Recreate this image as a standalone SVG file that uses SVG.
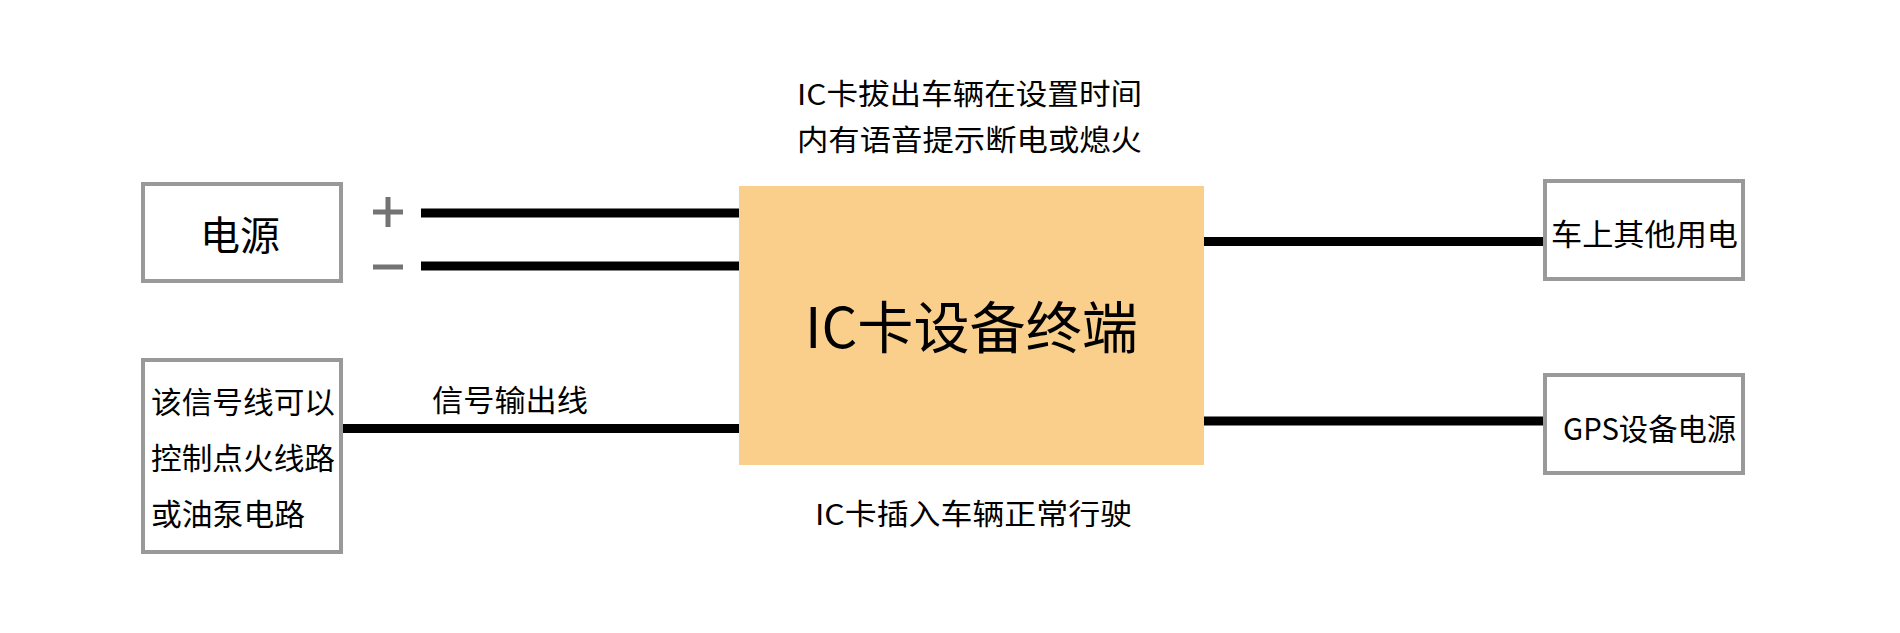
<svg xmlns="http://www.w3.org/2000/svg" width="1900" height="633" viewBox="0 0 1900 633">
<style>
.box{fill:#ffffff;stroke:#999999;stroke-width:4}
.t{font-family:"Noto Sans CJK SC","Noto Sans",sans-serif;fill:#000000}
.wire{stroke:#000000;stroke-width:9;fill:none}
.sign{fill:#737373}
</style>
<rect width="1900" height="633" fill="#ffffff"/>
<g id="connectors">
<line class="wire" x1="421" y1="213" x2="740" y2="213"/>
<line class="wire" x1="421" y1="266" x2="740" y2="266"/>
<line class="wire" x1="342" y1="428.5" x2="740" y2="428.5"/>
<line class="wire" x1="1203" y1="241.5" x2="1545" y2="241.5"/>
<line class="wire" x1="1203" y1="421" x2="1545" y2="421"/>
</g>
<g id="plus-minus">
<rect class="sign" x="373" y="209.5" width="30" height="5"/>
<rect class="sign" x="385.5" y="197" width="5" height="30"/>
<rect class="sign" x="373" y="264.5" width="30" height="5"/>
</g>
<g id="node-power">
<rect class="box" x="143" y="184" width="198" height="97"/>
<text class="t" x="200" y="250" font-size="40" textLength="80" lengthAdjust="spacingAndGlyphs">电源</text>
</g>
<g id="node-signal">
<rect class="box" x="143" y="360" width="198" height="192"/>
<text class="t" x="151" y="413" font-size="30" textLength="184" lengthAdjust="spacingAndGlyphs">该信号线可以</text>
<text class="t" x="151" y="469" font-size="30" textLength="184" lengthAdjust="spacingAndGlyphs">控制点火线路</text>
<text class="t" x="151" y="525" font-size="30" textLength="154" lengthAdjust="spacingAndGlyphs">或油泵电路</text>
</g>
<g id="node-terminal">
<rect x="739" y="186" width="465" height="279" fill="#F9CF8B"/>
<text class="t" x="805" y="348" font-size="56" textLength="333" lengthAdjust="spacingAndGlyphs">IC卡设备终端</text>
</g>
<g id="node-other">
<rect class="box" x="1545" y="181" width="198" height="98"/>
<text class="t" x="1551" y="245" font-size="30" textLength="187" lengthAdjust="spacingAndGlyphs">车上其他用电</text>
</g>
<g id="node-gps">
<rect class="box" x="1545" y="375" width="198" height="98"/>
<text class="t" x="1563" y="440" font-size="30" textLength="173" lengthAdjust="spacingAndGlyphs">GPS设备电源</text>
</g>
<g id="labels">
<text class="t" x="797" y="105" font-size="29" textLength="345" lengthAdjust="spacingAndGlyphs">IC卡拔出车辆在设置时间</text>
<text class="t" x="797" y="151" font-size="29" textLength="345" lengthAdjust="spacingAndGlyphs">内有语音提示断电或熄火</text>
<text class="t" x="815" y="525" font-size="29" textLength="317" lengthAdjust="spacingAndGlyphs">IC卡插入车辆正常行驶</text>
<text class="t" x="432" y="411" font-size="30" textLength="156" lengthAdjust="spacingAndGlyphs">信号输出线</text>
</g>
</svg>
